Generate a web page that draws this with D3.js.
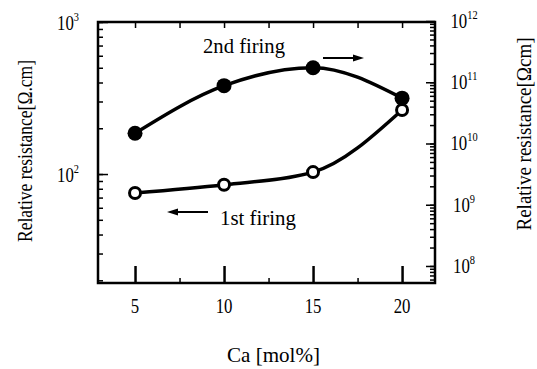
<!DOCTYPE html>
<html>
<head>
<meta charset="utf-8">
<script src="https://cdn.jsdelivr.net/npm/d3@7"></script>
<style>
  html, body { margin: 0; padding: 0; background: #fff; }
  svg { display: block; }
</style>
</head>
<body>
<svg id="chart" width="537" height="369"></svg>
<script>
// ---- data ----
const caValues = [5, 10, 15, 20];                       // Ca [mol%]
const firstFiring = [75, 85, 103, 264];                 // left axis, Ω·cm (open circles)
const secondFiring = [1.47e10, 8.8e10, 1.73e11, 5.5e10]; // right axis, Ω·cm (filled circles)
const xTickLabels = ["5", "10", "15", "20"];
const xMinorTicks = [7.5, 12.5, 17.5];
const leftTickExps = [2, 3];
const rightTickExps = [8, 9, 10, 11, 12];

const FONT = "'Liberation Serif', 'Times New Roman', Times, 'DejaVu Serif', serif";

// ---- layout ----
const svg = d3.select("#chart");
const W = 537, H = 369;
const L = 98, R = 435, T = 22, B = 283;

svg.append("rect").attr("width", W).attr("height", H).attr("fill", "#fff");

const x = d3.scaleLinear().domain([2.92, 21.85]).range([L, R]);
const yL = d3.scaleLog().domain([19.2, 1000]).range([B, T]);
const yR = d3.scaleLog().domain([Math.pow(10, 7.722), Math.pow(10, 11.984)]).range([B, T]);

// ---- axes (ticks inward) ----
function noLabels(g) { g.selectAll("text").remove(); g.select(".domain").remove(); g.selectAll("line").attr("stroke", "#000").attr("stroke-width", 1.5); }

svg.append("g").attr("transform", `translate(0,${B})`)
  .call(d3.axisBottom(x).tickValues(caValues).tickSize(-17)).call(noLabels)
  .selectAll("line").attr("stroke-width", 2.5);
svg.append("g").attr("transform", `translate(0,${B})`)
  .call(d3.axisBottom(x).tickValues(xMinorTicks).tickSize(-5)).call(noLabels);
svg.append("g").attr("transform", `translate(0,${T})`)
  .call(d3.axisTop(x).tickValues(caValues.concat(xMinorTicks)).tickSize(-6)).call(noLabels);
svg.append("g").attr("transform", `translate(${L},0)`)
  .call(d3.axisLeft(yL).tickSize(-5)).call(noLabels);
svg.append("g").attr("transform", `translate(${L},0)`)
  .call(d3.axisLeft(yL).tickValues(leftTickExps.map(e => Math.pow(10, e))).tickSize(-10)).call(noLabels);
svg.append("g").attr("transform", `translate(${R},0)`)
  .call(d3.axisRight(yR).tickSize(-5)).call(noLabels);
svg.append("g").attr("transform", `translate(${R},0)`)
  .call(d3.axisRight(yR).tickValues(rightTickExps.map(e => Math.pow(10, e))).tickSize(-9)).call(noLabels);

svg.append("rect").attr("x", L).attr("y", T).attr("width", R - L).attr("height", B - T)
  .attr("fill", "none").attr("stroke", "#000").attr("stroke-width", 2.5);

// ---- text group ----
const txt = svg.append("g").style("font-family", FONT).attr("fill", "#000");

txt.append("g").selectAll("text").data(caValues).join("text")
  .attr("x", d => x(d)).attr("y", B + 30)
  .attr("text-anchor", "middle").attr("font-size", 21)
  .attr("transform", d => `translate(${x(d)},0) scale(0.8,1) translate(${-x(d)},0)`)
  .text((d, i) => xTickLabels[i]);

function powLabel(sel) {
  sel.append("tspan").text("10");
  sel.append("tspan").attr("font-size", 13).attr("dy", -9).text(d => d);
}
txt.append("g").selectAll("text").data(leftTickExps).join("text")
  .attr("x", 79).attr("y", d => yL(Math.pow(10, d)) + 8)
  .attr("text-anchor", "end").attr("font-size", 21)
  .attr("transform", "translate(79,0) scale(0.8,1) translate(-79,0)")
  .call(powLabel);
txt.append("g").selectAll("text").data(rightTickExps).join("text")
  .attr("x", 464).attr("y", d => yR(Math.pow(10, d)) + 7)
  .attr("text-anchor", "middle").attr("font-size", 21)
  .attr("transform", "translate(464,0) scale(0.8,1) translate(-464,0)")
  .call(powLabel);

txt.append("text").attr("transform", "translate(32,151) rotate(-90)")
  .attr("text-anchor", "middle").attr("font-size", 21)
  .attr("textLength", 182).attr("lengthAdjust", "spacingAndGlyphs")
  .text("Relative resistance[Ω.cm]");
txt.append("text").attr("transform", "translate(531,134) rotate(-90)")
  .attr("text-anchor", "middle").attr("font-size", 21)
  .attr("textLength", 193).attr("lengthAdjust", "spacingAndGlyphs")
  .text("Relative resistance[Ωcm]");
txt.append("text").attr("x", 227).attr("y", 362).attr("font-size", 21)
  .attr("textLength", 93).attr("lengthAdjust", "spacingAndGlyphs")
  .text("Ca [mol%]");

// ---- series ----
const firstData = caValues.map((c, i) => ({ x: c, y: firstFiring[i] }));
const secondData = caValues.map((c, i) => ({ x: c, y: secondFiring[i] }));

const lineL = d3.line().x(d => x(d.x)).y(d => yL(d.y)).curve(d3.curveMonotoneX);
const lineR = d3.line().x(d => x(d.x)).y(d => yR(d.y)).curve(d3.curveMonotoneX);

svg.append("path").datum(secondData).attr("d", lineR)
  .attr("fill", "none").attr("stroke", "#000").attr("stroke-width", 3.5);
svg.append("path").datum(firstData).attr("d", lineL)
  .attr("fill", "none").attr("stroke", "#000").attr("stroke-width", 3.5);

svg.append("g").selectAll("circle").data(secondData).join("circle")
  .attr("cx", d => x(d.x)).attr("cy", d => yR(d.y)).attr("r", 7.5).attr("fill", "#000");
svg.append("g").selectAll("circle").data(firstData).join("circle")
  .attr("cx", d => x(d.x)).attr("cy", d => yL(d.y)).attr("r", 5.5)
  .attr("fill", "#fff").attr("stroke", "#000").attr("stroke-width", 3);

// ---- annotations ----
txt.append("text").attr("x", 203).attr("y", 53).attr("font-size", 21)
  .attr("textLength", 82).attr("lengthAdjust", "spacingAndGlyphs")
  .text("2nd  firing");
txt.append("text").attr("x", 220).attr("y", 225).attr("font-size", 21)
  .attr("textLength", 76).attr("lengthAdjust", "spacingAndGlyphs")
  .text("1st  firing");

function arrow(x1, x2, y) {
  const dir = Math.sign(x2 - x1);
  svg.append("line").attr("x1", x1).attr("x2", x2 - dir * 8).attr("y1", y).attr("y2", y)
    .attr("stroke", "#000").attr("stroke-width", 2);
  svg.append("path")
    .attr("d", `M${x2},${y} L${x2 - dir * 11},${y - 3.5} L${x2 - dir * 11},${y + 3.5} Z`)
    .attr("fill", "#000");
}
arrow(323, 364, 58);
arrow(208, 167, 212);
</script>
</body>
</html>
